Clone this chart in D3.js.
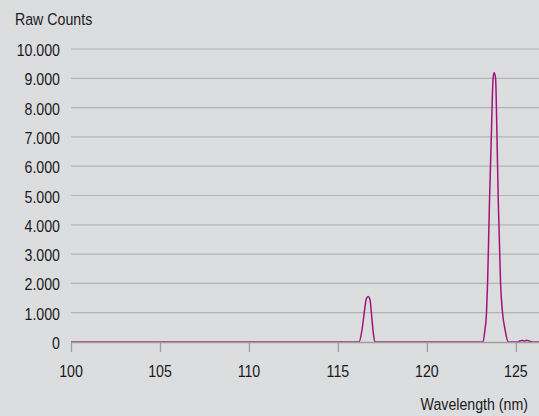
<!DOCTYPE html>
<html>
<head>
<meta charset="utf-8">
<script src="https://cdn.jsdelivr.net/npm/d3@7"></script>
<style>
  html, body { margin: 0; padding: 0; background: #dcdddf; }
  svg text { font-family: "Liberation Sans", Arial, sans-serif; fill: #1a1a1a; font-size: 16.5px; }
</style>
</head>
<body>
<svg id="chart"></svg>
<script>
// spectrum (nm, raw counts)
const wavelength = [100, 116.18, 116.35, 116.5, 116.6, 116.7, 116.8, 116.88, 116.97, 117.08,
  123.15, 123.25, 123.35, 123.41, 123.52, 123.62, 123.72, 123.78, 123.86, 123.94, 124.01, 124.14, 124.25, 124.4, 124.57,
  125.1, 125.25, 125.4, 125.5, 125.6, 125.7, 125.85, 125.95, 126.3]
const counts = [0, 0, 400, 1100, 1480, 1550, 1450, 1000, 400, 0,
  0, 350, 1000, 2000, 4850, 7000, 9000, 9200, 9000, 7000, 4850, 2000, 1000, 400, 0,
  0, 40, 50, 30, 60, 40, 20, 0, 0]

const yTicks = [0, 1000, 2000, 3000, 4000, 5000, 6000, 7000, 8000, 9000, 10000]
const xTicks = [100, 105, 110, 115, 120, 125]

const width = 539
const height = 416
const margin = { top: 49, right: 0, bottom: 74, left: 71 }
const squeeze = 0.86 // the original type is a condensed face

const svg = d3.select('#chart')
  .attr('width', width)
  .attr('height', height)

const x = d3.scaleLinear()
  .domain([100, 126.3])
  .range([margin.left, width - margin.right])

const y = d3.scaleLinear()
  .domain([0, 10000])
  .range([height - margin.bottom, margin.top])

const fmt = d => d === 0 ? '0' : d3.format(',')(d).replace(/,/g, '.')
const place = (px, py) => `translate(${px}, ${py}) scale(${squeeze}, 1)`

// grid lines
svg.append('g')
  .selectAll('line')
  .data(yTicks.filter(d => d > 0))
  .enter()
  .append('line')
  .attr('x1', x(100))
  .attr('x2', width)
  .attr('y1', d => y(d))
  .attr('y2', d => y(d))
  .style('stroke', '#b3b4b6')
  .style('stroke-width', 1.2)

// y labels
svg.append('g')
  .selectAll('text')
  .data(yTicks)
  .enter()
  .append('text')
  .attr('transform', d => place(60, y(d) + 7))
  .attr('text-anchor', 'end')
  .text(fmt)

// data line
const line = d3.line()
  .x((d, i) => x(wavelength[i]))
  .y(d => y(d))
  .curve(d3.curveMonotoneX)

svg.append('path')
  .datum(counts)
  .attr('d', line)
  .style('fill', 'none')
  .style('stroke', '#a3137f')
  .style('stroke-width', 1.5)

// x axis
const xAxis = d3.axisBottom(x)
  .tickValues(xTicks)
  .tickSize(10)
  .tickSizeOuter(0)
  .tickFormat(() => '')

const ax = svg.append('g')
  .attr('transform', `translate(0, ${y(0)})`)
  .call(xAxis)

ax.select('.domain').style('stroke', '#9d9ea0').style('stroke-width', 1.3)
ax.selectAll('.tick line').style('stroke', '#9d9ea0').style('stroke-width', 1.3)

svg.append('g')
  .selectAll('text')
  .data(xTicks)
  .enter()
  .append('text')
  .attr('transform', d => place(x(d), 377))
  .attr('text-anchor', 'middle')
  .text(d => d)

svg.append('text')
  .attr('transform', place(15, 25))
  .text('Raw Counts')

svg.append('text')
  .attr('transform', place(528, 410))
  .attr('text-anchor', 'end')
  .text('Wavelength (nm)')
</script>
</body>
</html>
